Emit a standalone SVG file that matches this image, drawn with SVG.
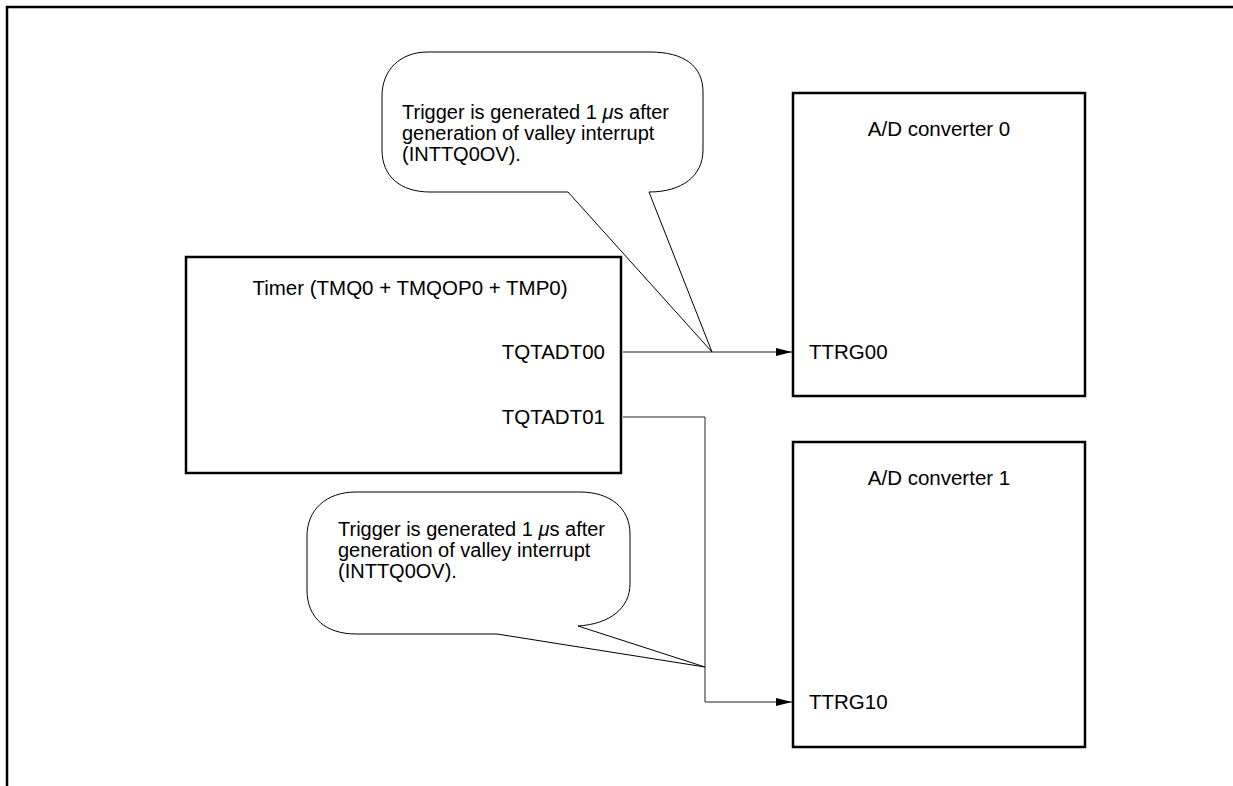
<svg xmlns="http://www.w3.org/2000/svg" width="1233" height="786" viewBox="0 0 1233 786">
  <style>
    .frame { fill: none; stroke: #000; stroke-width: 2.5; }
    .box { fill: #fff; stroke: #000; stroke-width: 2.5; }
    .bubble { fill: #fff; stroke: #000; stroke-width: 1; }
    .wire { fill: none; stroke: #222; stroke-width: 1; }
    text { font-family: "Liberation Sans", Arial, sans-serif; font-size: 20.5px; fill: #000; }
    .note { font-size: 20px; }
    .mid { text-anchor: middle; }
    .end { text-anchor: end; }
    .mu { font-style: italic; }
  </style>
  <defs>
    <marker id="arrow" markerWidth="16" markerHeight="8" refX="16" refY="4" orient="auto" markerUnits="userSpaceOnUse">
      <path d="M0,0 L16,4 L0,8 Z" fill="#000"/>
    </marker>
  </defs>

  <rect width="1233" height="786" fill="#fff"/>

  <!-- page frame: top and left rule -->
  <path class="frame" d="M7,786 L7,7 L1233,7"/>

  <!-- timer block -->
  <g id="timer">
    <rect class="box" x="186" y="257" width="435" height="216"/>
    <text class="mid" x="410" y="295">Timer (TMQ0 + TMQOP0 + TMP0)</text>
    <text class="end" x="605" y="359">TQTADT00</text>
    <text class="end" x="605" y="424">TQTADT01</text>
  </g>

  <!-- A/D converter 0 -->
  <g id="adc0">
    <rect class="box" x="793" y="93" width="292" height="303"/>
    <text class="mid" x="939" y="136">A/D converter 0</text>
    <text x="809" y="359">TTRG00</text>
  </g>

  <!-- A/D converter 1 -->
  <g id="adc1">
    <rect class="box" x="793" y="442" width="292" height="305"/>
    <text class="mid" x="939" y="485">A/D converter 1</text>
    <text x="809" y="709">TTRG10</text>
  </g>

  <!-- note on trigger 0 -->
  <g id="note0">
    <path class="bubble" d="M568,192 L712,352 L649,192 C682,192 703,176 703,150 L703,92 C703,66 684,52 650,52 L428,52 C400,52 382,70 382,96 L382,150 C382,176 400,192 430,192 Z"/>
    <text class="note" x="402" y="119">Trigger is generated 1 <tspan class="mu">μ</tspan>s after</text>
    <text class="note" x="402" y="140">generation of valley interrupt</text>
    <text class="note" x="402" y="161">(INTTQ0OV).</text>
  </g>

  <!-- note on trigger 1 -->
  <g id="note1">
    <path class="bubble" d="M497,634 L705,667 L578,626 C610,624 630,608 630,584 L630,534 C630,508 610,492 580,492 L356,492 C326,492 307,510 307,536 L307,590 C307,618 326,634 356,634 Z"/>
    <text class="note" x="338" y="536">Trigger is generated 1 <tspan class="mu">μ</tspan>s after</text>
    <text class="note" x="338" y="557">generation of valley interrupt</text>
    <text class="note" x="338" y="578">(INTTQ0OV).</text>
  </g>

  <!-- trigger lines -->
  <g id="connectors">
    <path class="wire" d="M623,352 L792,352" marker-end="url(#arrow)"/>
    <path class="wire" d="M623,417 L705,417 L705,702 L792,702" marker-end="url(#arrow)"/>
  </g>
</svg>
